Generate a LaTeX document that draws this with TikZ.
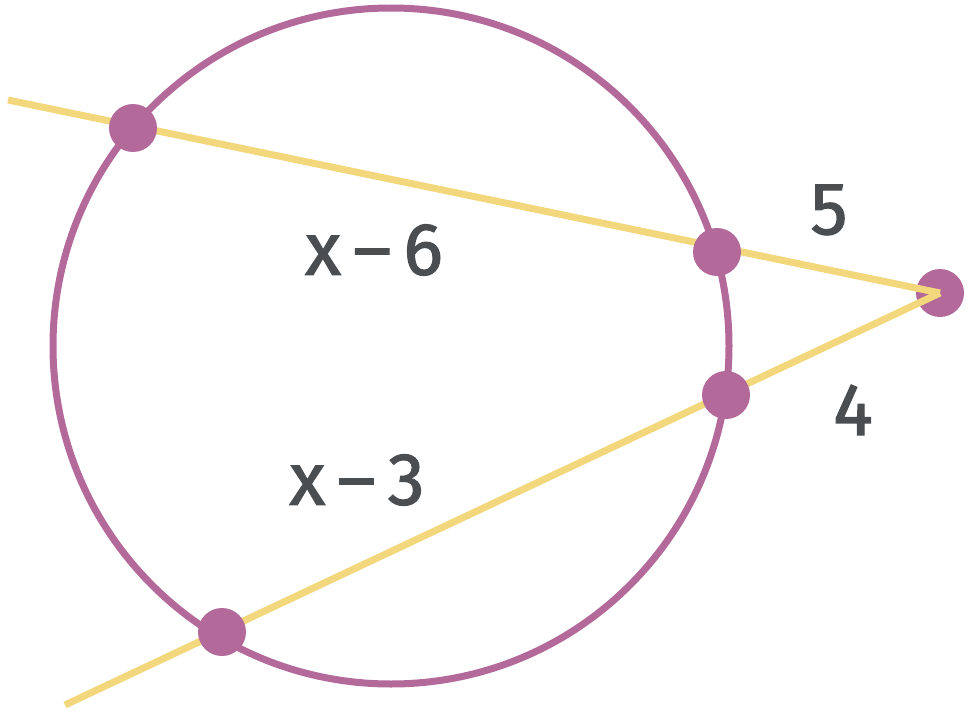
\documentclass[tikz,border=0pt]{standalone}
\usepackage{fontspec}
\setmainfont{Fira Sans}
\newfontfamily\lblfont[FakeBold=1.6]{Fira Sans}
\definecolor{circpurple}{HTML}{B3699A}
\definecolor{lineyellow}{HTML}{F3D77C}
\definecolor{txtgray}{HTML}{4A4E51}
\begin{document}
\begin{tikzpicture}[x=1pt,y=-1pt,
  secant/.style={draw=lineyellow,line width=7pt},
  circ/.style={draw=circpurple,line width=7pt},
  dot/.style={circle,fill=circpurple,inner sep=0pt,minimum size=48pt},
  lbl/.style={text=txtgray,font=\lblfont\fontsize{74}{80}\selectfont,inner sep=0pt}]
\useasboundingbox (0,0) rectangle (970,717);
\coordinate (e1) at (8,100);
\coordinate (e2) at (65,705);
\coordinate (c) at (391,346);
\node[dot] (p) at (940,293) {};
\draw[secant] (e1) -- (p.center);
\draw[secant] (e2) -- (p.center);
\draw[circ] (c) circle[radius=338];
\node[dot] (a1) at (133,128) {};
\node[dot] (a2) at (717,252) {};
\node[dot] (b2) at (726,395) {};
\node[dot] (b1) at (222,632) {};
\node[lbl] (l1) at (374,250) {x\kern12pt–\kern12pt6};
\node[lbl] (l2) at (357,480) {x\kern12pt–\kern12pt3};
\node[lbl] (l3) at (829,210) {5};
\node[lbl] (l4) at (853,410) {4};
\end{tikzpicture}
\end{document}
